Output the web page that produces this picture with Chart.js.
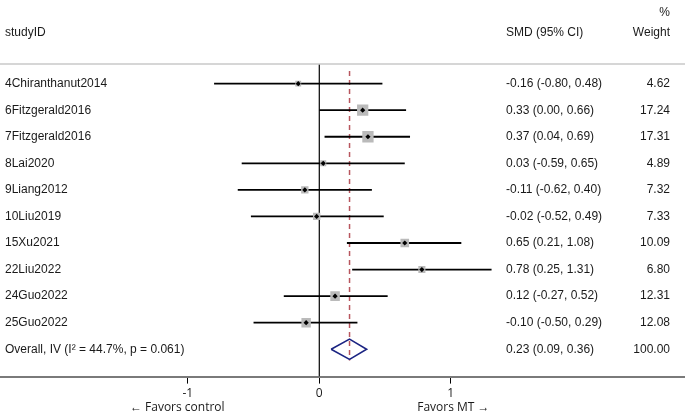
<!DOCTYPE html>
<html>
<head>
<meta charset="utf-8">
<script src="https://cdn.jsdelivr.net/npm/chart.js@4.4.1/dist/chart.umd.min.js"></script>
<style>
  html, body { margin: 0; padding: 0; background: #fff; }
  #wrap { width: 685px; height: 414px; position: relative; }
</style>
</head>
<body>
<div id="wrap"><canvas id="grafikForest"></canvas></div>
<script>
// Data studi
const studi = ['4Chiranthanut2014', '6Fitzgerald2016', '7Fitzgerald2016', '8Lai2020', '9Liang2012',
               '10Liu2019', '15Xu2021', '22Liu2022', '24Guo2022', '25Guo2022'];
const smd    = [-0.16, 0.33, 0.37, 0.03, -0.11, -0.02, 0.65, 0.78, 0.12, -0.10];
const batasBawah = [-0.80, 0.00, 0.04, -0.59, -0.62, -0.52, 0.21, 0.25, -0.27, -0.50];
const batasAtas  = [0.48, 0.66, 0.69, 0.65, 0.40, 0.49, 1.08, 1.31, 0.52, 0.29];
const bobot  = [4.62, 17.24, 17.31, 4.89, 7.32, 7.33, 10.09, 6.80, 12.31, 12.08];

// Gabungan (overall)
const labelGabungan = 'Overall, IV (I\u00B2 = 44.7%, p = 0.061)';
const smdGabungan   = 0.23;
const ciGabungan    = [0.09, 0.36];
const bobotGabungan = 100.00;

const tickX = [-1, 0, 1];

const fmt = v => v.toFixed(2);
const barisGabungan = studi.length;

// Garis CI per studi
const datasetCI = studi.map((s, i) => ({
    type: 'line',
    data: [{ x: batasBawah[i], y: i }, { x: batasAtas[i], y: i }],
    borderColor: '#000',
    borderWidth: 1.8,
    pointRadius: 0,
    order: 3
}));

const datasets = [
    // garis nol
    {
        type: 'line',
        data: [{ x: 0, y: -0.74 }, { x: 0, y: 11.03 }],
        borderColor: '#000', borderWidth: 1.2, pointRadius: 0, order: 5
    },
    // garis putus-putus estimasi gabungan
    {
        type: 'line',
        data: [{ x: smdGabungan, y: -0.48 }, { x: smdGabungan, y: barisGabungan + 0.42 }],
        borderColor: '#b8565e', borderWidth: 1.5, borderDash: [5, 4], pointRadius: 0, order: 4
    },
    ...datasetCI,
    // kotak bobot
    {
        type: 'scatter',
        data: smd.map((v, i) => ({ x: v, y: i })),
        pointStyle: 'rect',
        pointRadius: bobot.map(w => 1.92 * Math.sqrt(w)),
        backgroundColor: '#bababa',
        borderWidth: 0,
        order: 2
    },
    // titik tengah
    {
        type: 'scatter',
        data: smd.map((v, i) => ({ x: v, y: i })),
        pointStyle: 'rectRot',
        pointRadius: 2.6,
        backgroundColor: '#000',
        borderWidth: 0,
        order: 1
    },
    // diamond gabungan
    {
        type: 'line',
        data: [
            { x: ciGabungan[0], y: barisGabungan },
            { x: smdGabungan, y: barisGabungan - 0.38 },
            { x: ciGabungan[1], y: barisGabungan },
            { x: smdGabungan, y: barisGabungan + 0.38 },
            { x: ciGabungan[0], y: barisGabungan }
        ],
        borderColor: '#1c2583', borderWidth: 1.6, pointRadius: 0, tension: 0, order: 0
    }
];

// Plugin teks kolom
const teksKolom = {
    id: 'teksKolom',
    afterDraw(chart) {
        const ctx = chart.ctx;
        const y = chart.scales.y;
        const area = chart.chartArea;
        ctx.save();
        ctx.fillStyle = '#1a1a1a';
        ctx.font = '12px "Liberation Sans", Arial, sans-serif';
        ctx.textBaseline = 'middle';

        // header
        ctx.textAlign = 'left';
        ctx.fillText('studyID', 5, 33);
        ctx.fillText('SMD (95% CI)', 506, 33);
        ctx.textAlign = 'right';
        ctx.fillText('Weight', 670, 33);
        ctx.fillText('%', 670, 13);

        // garis pemisah atas
        ctx.strokeStyle = '#c8c8c8';
        ctx.lineWidth = 1.5;
        ctx.beginPath();
        ctx.moveTo(0, area.top);
        ctx.lineTo(chart.width, area.top);
        ctx.stroke();

        studi.forEach((s, i) => {
            const py = y.getPixelForValue(i);
            ctx.textAlign = 'left';
            ctx.fillText(s, 5, py);
            ctx.fillText(`${fmt(smd[i])} (${fmt(batasBawah[i])}, ${fmt(batasAtas[i])})`, 506, py);
            ctx.textAlign = 'right';
            ctx.fillText(fmt(bobot[i]), 670, py);
        });

        const pg = y.getPixelForValue(barisGabungan);
        ctx.textAlign = 'left';
        ctx.fillText(labelGabungan, 5, pg);
        ctx.fillText(`${fmt(smdGabungan)} (${fmt(ciGabungan[0])}, ${fmt(ciGabungan[1])})`, 506, pg);
        ctx.textAlign = 'right';
        ctx.fillText(fmt(bobotGabungan), 670, pg);

        // label arah
        const x = chart.scales.x;
        ctx.font = '12px "Open Sans", sans-serif';
        ctx.textAlign = 'center';
        ctx.fillText('\u2190 Favors control', x.getPixelForValue(-1.08), 408);
        ctx.fillText('Favors MT \u2192', x.getPixelForValue(1.02), 408);
        ctx.restore();
    }
};

new Chart(document.getElementById('grafikForest').getContext('2d'), {
    type: 'scatter',
    data: { datasets },
    options: {
        responsive: true,
        maintainAspectRatio: false,
        animation: false,
        layout: { autoPadding: false, padding: { top: 64, bottom: 10, left: 0, right: 0 } },
        plugins: {
            legend: { display: false },
            tooltip: { enabled: false }
        },
        scales: {
            x: {
                type: 'linear',
                min: -2.428,
                max: 2.781,
                afterBuildTicks: axis => { axis.ticks = tickX.map(v => ({ value: v })); },
                afterFit: axis => { axis.paddingLeft = 0; axis.paddingRight = 0; },
                border: { display: true, color: '#7a7a7a', width: 2 },
                grid: { display: true, drawOnChartArea: false, drawTicks: true, tickLength: 7, color: '#000', lineWidth: 1 },
                ticks: {
                    color: '#1a1a1a',
                    padding: 3,
                    font: { family: '"Open Sans", sans-serif', size: 12 },
                    callback: v => String(v)
                }
            },
            y: {
                type: 'linear',
                display: false,
                reverse: true,
                min: -0.74,
                max: 11.03
            }
        }
    },
    plugins: [teksKolom]
});
</script>
</body>
</html>
